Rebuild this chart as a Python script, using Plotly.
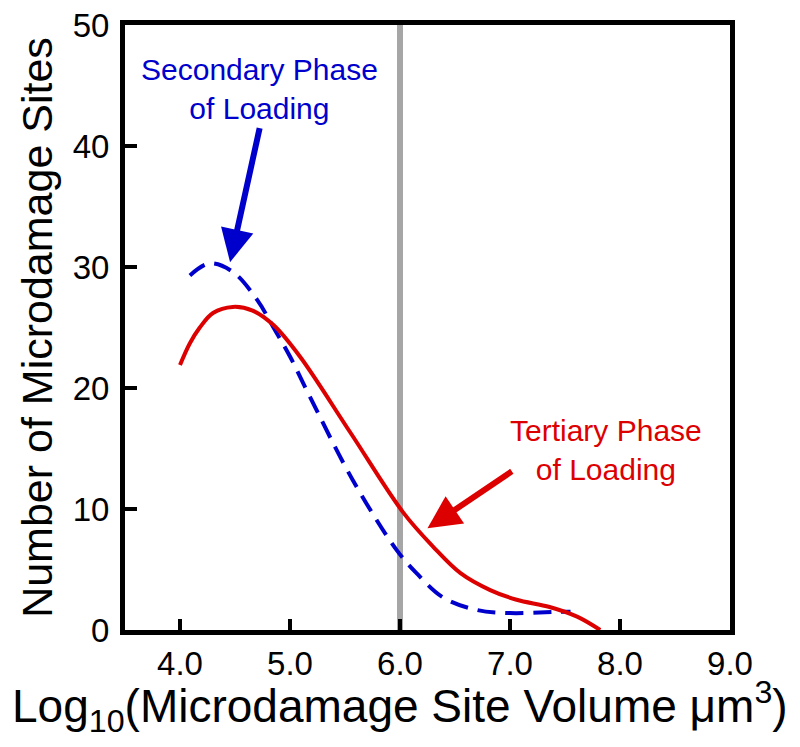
import plotly.graph_objects as go

# Tertiary phase of loading (solid red)
tertiary_x = [4.0, 4.09, 4.18, 4.3, 4.48, 4.66, 4.85, 5.09, 5.55, 6.03, 6.3, 6.55, 6.82, 7.06, 7.36, 7.61, 7.82]
tertiary_y = [21.9, 23.7, 25.0, 26.2, 26.7, 26.4, 25.2, 22.6, 16.3, 9.7, 6.9, 4.7, 3.3, 2.5, 1.9, 1.1, 0.0]

# Secondary phase of loading (dashed blue)
secondary_x = [4.09, 4.27, 4.48, 4.7, 4.85, 5.0, 5.18, 5.57, 5.97, 6.15, 6.39, 6.7, 7.0, 7.43, 7.55]
secondary_y = [29.3, 30.3, 29.6, 27.3, 25.0, 22.6, 19.3, 12.4, 6.6, 4.7, 2.7, 1.65, 1.4, 1.5, 1.5]

threshold_x = 6.0
x_ticks = [4.0, 5.0, 6.0, 7.0, 8.0, 9.0]
x_tick_labels = ["4.0", "5.0", "6.0", "7.0", "8.0", "9.0"]
y_ticks = [0, 10, 20, 30, 40, 50]

RED = "#dd0000"
BLUE = "#0000cc"
FONT = "Liberation Sans, Arial, sans-serif"

fig = go.Figure()
fig.add_trace(go.Scatter(x=[threshold_x, threshold_x], y=[0, 50], mode="lines",
                         line=dict(color="#a6a6a6", width=6), showlegend=False, hoverinfo="skip"))
fig.add_trace(go.Scatter(x=secondary_x, y=secondary_y, mode="lines",
                         line=dict(color=BLUE, width=4, dash="18px,10px", shape="spline", smoothing=1.0),
                         name="Secondary Phase of Loading", showlegend=False))
fig.add_trace(go.Scatter(x=tertiary_x, y=tertiary_y, mode="lines",
                         line=dict(color=RED, width=4, shape="spline", smoothing=1.0),
                         name="Tertiary Phase of Loading", showlegend=False))

# Text labels
fig.add_annotation(x=4.72, y=44.7, xref="x", yref="y", text="Secondary Phase<br>of Loading",
                   showarrow=False, font=dict(family=FONT, size=30, color=BLUE), align="center")
fig.add_annotation(x=7.87, y=14.9, xref="x", yref="y", text="Tertiary Phase<br>of Loading",
                   showarrow=False, font=dict(family=FONT, size=30, color=RED), align="center")
# Arrows
fig.add_annotation(x=4.455, y=30.4, ax=4.727, ay=41.6, xref="x", yref="y", axref="x", ayref="y",
                   text="", showarrow=True, arrowhead=2, arrowsize=1.1, arrowwidth=6, arrowcolor=BLUE)
fig.add_annotation(x=6.25, y=8.4, ax=7.03, ay=13.2, xref="x", yref="y", axref="x", ayref="y",
                   text="", showarrow=True, arrowhead=2, arrowsize=1.1, arrowwidth=6, arrowcolor=RED)

# X-axis title (as annotation so it can be centred on the page like the reference)
fig.add_annotation(x=0.4545, y=-0.127, xref="paper", yref="paper",
                   text="Log<sub>10</sub>(Microdamage Site Volume μm<sup>3</sup>)",
                   showarrow=False, xanchor="center", yanchor="middle",
                   font=dict(family=FONT, size=46, color="black"))

fig.update_layout(
    width=792, height=739,
    margin=dict(l=117, r=70, t=17, b=117),
    paper_bgcolor="white", plot_bgcolor="white",
    font=dict(family=FONT, color="black"),
    xaxis=dict(range=[3.5, 9.0], tickvals=x_ticks, ticktext=x_tick_labels,
               ticks="inside", ticklen=11, tickwidth=4, tickcolor="black",
               showline=True, linewidth=5, linecolor="black", mirror=True,
               showgrid=False, zeroline=False, automargin=False,
               ticklabeloverflow="allow",
               tickfont=dict(size=33, family=FONT)),
    yaxis=dict(range=[0, 50], tickvals=y_ticks,
               ticks="inside", ticklen=12, tickwidth=4, tickcolor="black",
               showline=True, linewidth=5, linecolor="black", mirror=True,
               showgrid=False, zeroline=False, automargin=False,
               ticklabelstandoff=4, ticklabeloverflow="allow",
               tickfont=dict(size=33, family=FONT),
               title=dict(text="Number of Microdamage Sites",
                          font=dict(size=43, family=FONT), standoff=8)),
)

fig.write_html("out.html")
